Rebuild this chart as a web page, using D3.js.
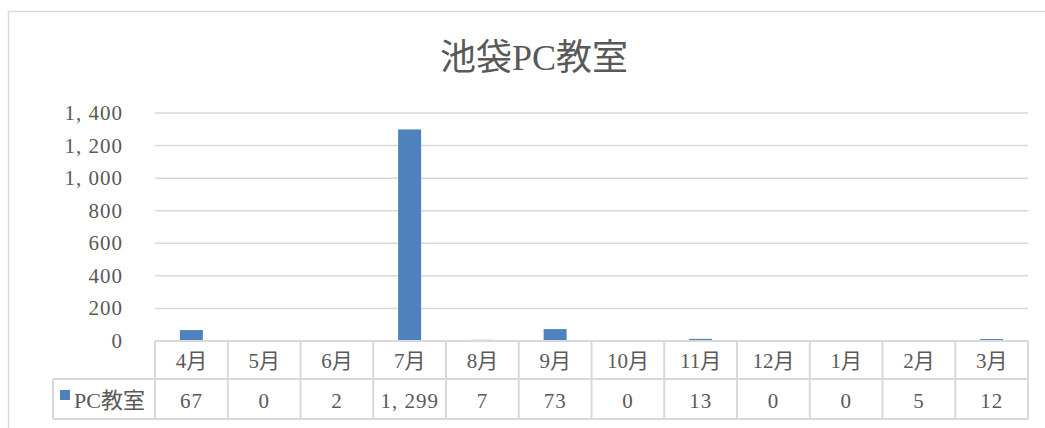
<!DOCTYPE html>
<html><head><meta charset="utf-8">
<script src="https://cdn.jsdelivr.net/npm/d3@7"></script>
<style>
html,body{margin:0;padding:0;background:#fff;}
text{font-family:"Liberation Serif","Noto Sans CJK JP",serif;fill:#595959;}
</style></head>
<body><svg id="c" width="1045" height="428"></svg>
<script>
const title = "池袋PC教室";
const seriesName = "PC教室";
const months = ["4月","5月","6月","7月","8月","9月","10月","11月","12月","1月","2月","3月"];
const values = [67,0,2,1299,7,73,0,13,0,0,5,12];
const yTicks = [0,200,400,600,800,1000,1200,1400];

(function(){
const svg = d3.select("#c");
const plotLeft = 155, plotRight = 1028, plotTop = 113, zeroY = 341;
const row1 = 379, row2 = 419, legendLeft = 53;
const gridColor = "#d9d9d9";

svg.append("rect").attr("x",8.5).attr("y",11.5).attr("width",1100).attr("height",500)
  .attr("fill","#fff").attr("stroke","#d9d9d9").attr("stroke-width",1.5);

svg.append("text").attr("x",534).attr("y",70).attr("text-anchor","middle")
  .style("font-size","36px").text(title);

const x = d3.scaleBand().domain(months).range([plotLeft,plotRight]).paddingInner(0).paddingOuter(0);
const y = d3.scaleLinear().domain([0,1400]).range([zeroY,plotTop]);

svg.append("g").selectAll("line").data(yTicks.filter(d=>d>0)).join("line")
  .attr("x1",plotLeft).attr("x2",plotRight).attr("y1",d=>y(d)).attr("y2",d=>y(d))
  .attr("stroke",gridColor).attr("stroke-width",1.5);

const fmt = d3.format(",");
svg.append("g").selectAll("text").data(yTicks).join("text")
  .attr("x",123).attr("y",d=>y(d)+7).attr("text-anchor","end")
  .style("font-size","21px").style("letter-spacing","1px").text(d=>fmt(d).replace(",",", "));

const bw = 23;
svg.append("g").selectAll("rect").data(values).join("rect")
  .attr("x",(d,i)=>x(months[i])+x.bandwidth()/2-bw/2)
  .attr("width",bw)
  .attr("y",d=>y(d))
  .attr("height",d=>zeroY-y(d))
  .attr("fill","#4f81bd");

const tg = svg.append("g");
const lineStyle = s=>s.attr("stroke",gridColor).attr("stroke-width",2);
tg.append("line").attr("x1",plotLeft).attr("x2",plotRight).attr("y1",zeroY).attr("y2",zeroY).call(lineStyle);
tg.append("line").attr("x1",legendLeft).attr("x2",plotRight).attr("y1",row1).attr("y2",row1).call(lineStyle);
tg.append("line").attr("x1",legendLeft).attr("x2",plotRight).attr("y1",row2).attr("y2",row2).call(lineStyle);
const vx = months.map(m=>x(m)).concat([plotRight]);
tg.selectAll("line.v").data(vx).join("line").attr("class","v")
  .attr("x1",d=>d).attr("x2",d=>d).attr("y1",zeroY).attr("y2",row2).call(lineStyle);
tg.append("line").attr("x1",legendLeft).attr("x2",legendLeft).attr("y1",row1).attr("y2",row2).call(lineStyle);

tg.selectAll("text.m").data(months).join("text").attr("class","m")
  .attr("x",d=>x(d)+x.bandwidth()/2).attr("y",368).attr("text-anchor","middle")
  .style("font-size","21px").text(d=>d);
tg.selectAll("text.v").data(values).join("text").attr("class","v")
  .attr("x",(d,i)=>x(months[i])+x.bandwidth()/2).attr("y",408).attr("text-anchor","middle")
  .style("font-size","21px").style("letter-spacing","1px").text(d=>fmt(d).replace(",",", "));

tg.append("rect").attr("x",60).attr("y",390).attr("width",10).attr("height",10).attr("fill","#4f81bd");
tg.append("text").attr("x",74).attr("y",408).style("font-size","22px").text(seriesName);
})();
</script></body></html>
